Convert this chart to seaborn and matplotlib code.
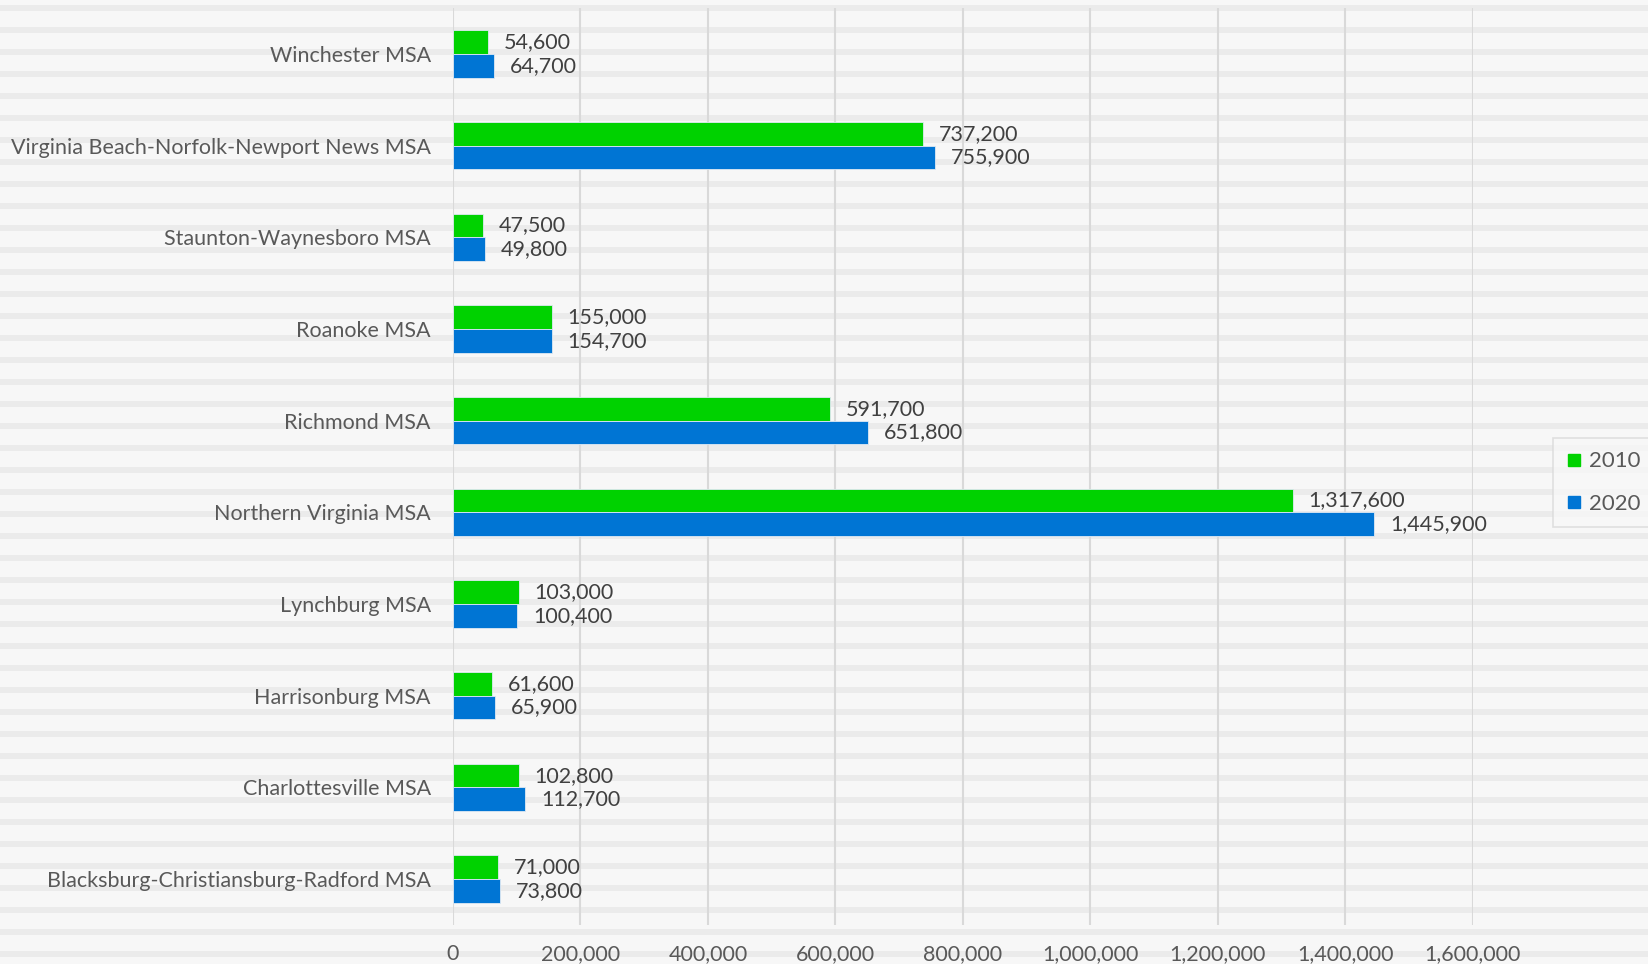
import pandas as pd
import matplotlib.pyplot as plt
import seaborn as sns
from matplotlib.lines import Line2D

# data
msas = ['Winchester MSA', 'Virginia Beach-Norfolk-Newport News MSA', 'Staunton-Waynesboro MSA',
        'Roanoke MSA', 'Richmond MSA', 'Northern Virginia MSA', 'Lynchburg MSA',
        'Harrisonburg MSA', 'Charlottesville MSA', 'Blacksburg-Christiansburg-Radford MSA']
pop_2010 = [54600, 737200, 47500, 155000, 591700, 1317600, 103000, 61600, 102800, 71000]
pop_2020 = [64700, 755900, 49800, 154700, 651800, 1445900, 100400, 65900, 112700, 73800]
years = ['2010', '2020']
colors = ['#00D200', '#0075D4']
xticks = [0, 200000, 400000, 600000, 800000, 1000000, 1200000, 1400000, 1600000]

df = pd.DataFrame({
    'msa': msas * 2,
    'year': [years[0]] * len(msas) + [years[1]] * len(msas),
    'pop': pop_2010 + pop_2020,
})

sns.set_theme(style='white')
plt.rcParams['font.family'] = ['Lato', 'DejaVu Sans']
txt = '#595959'
fs = 15.5

W, H = 1649, 964
fig = plt.figure(figsize=(W / 100, H / 100), dpi=100, facecolor='#f7f7f7')

# striped background (whole figure)
bg = fig.add_axes([0, 0, 1, 1], zorder=-1)
bg.set_xlim(0, W)
bg.set_ylim(H, 0)
bg.axis('off')
y0 = 5
while y0 < H:
    bg.axhspan(y0, y0 + 5.7, color='#ebebeb', lw=0)
    y0 += 22

ax = fig.add_axes([453 / W, 1 - 925 / H, (1472.7 - 453) / W, (925 - 8) / H])
ax.set_facecolor('none')
sns.barplot(data=df, y='msa', x='pop', hue='year', order=msas, hue_order=years,
            palette=colors, saturation=1, orient='h', width=0.516, edgecolor='#dfe9f3',
            linewidth=0.6, ax=ax, legend=False, zorder=3)

for cont in ax.containers:
    ax.bar_label(cont, labels=[f'{v:,.0f}' for v in cont.datavalues],
                 padding=11.5, fontsize=fs, color='#404040')

ax.set_xlim(0, 1600000)
ax.set_ylim(len(msas) - 0.5, -0.5)
ax.set_xticks(xticks)
ax.set_xticklabels([f'{v:,}' for v in xticks])
ax.tick_params(axis='x', length=0, pad=14, labelsize=fs, labelcolor=txt)
ax.tick_params(axis='y', length=0, pad=16, labelsize=fs, labelcolor=txt)
ax.set_xlabel('')
ax.set_ylabel('')
ax.grid(axis='x', color='#d9d9d9', lw=1.5, zorder=0)
ax.set_axisbelow(True)
for s in ax.spines.values():
    s.set_visible(False)

handles = [Line2D([], [], marker='s', ls='', color=c, markersize=9) for c in colors]
leg = fig.legend(handles, years, loc='upper left', bbox_to_anchor=(1553 / W, 1 - 438 / H),
                 borderaxespad=0, frameon=True, fancybox=False, fontsize=16, labelspacing=1.0,
                 handlelength=0.7, handletextpad=0.3, borderpad=0.6, labelcolor=txt)
leg.get_frame().set_edgecolor('#d9d9d9')
leg.get_frame().set_facecolor('#f7f7f7')
leg.get_frame().set_linewidth(1.2)

fig.savefig('out.png', dpi=100, facecolor=fig.get_facecolor())
